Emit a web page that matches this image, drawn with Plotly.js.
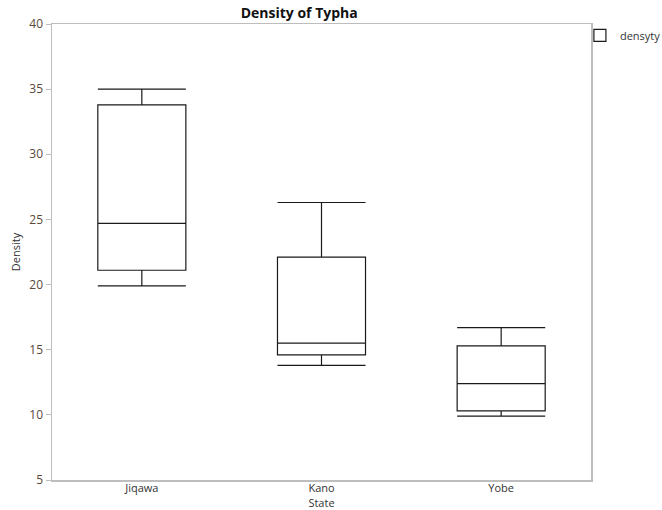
<!DOCTYPE html>
<html>
<head>
<meta charset="utf-8">
<script src="https://cdn.plot.ly/plotly-3.0.1.min.js"></script>
<style>html,body{margin:0;padding:0;background:#fff}#chart{width:662px;height:510px}</style>
</head>
<body>
<div id="chart"></div>
<script>
// Data
const states = ["Jiqawa", "Kano", "Yobe"];
const lowerWhisker = [19.9, 13.8, 9.9];
const q1 = [21.1, 14.6, 10.3];
const median = [24.7, 15.5, 12.4];
const q3 = [33.8, 22.1, 15.3];
const upperWhisker = [35.0, 26.3, 16.7];
const seriesName = "densyty";

const trace = {
  type: "box",
  name: seriesName,
  x: states,
  q1: q1,
  median: median,
  q3: q3,
  lowerfence: lowerWhisker,
  upperfence: upperWhisker,
  boxpoints: false,
  fillcolor: "rgba(255,255,255,0)",
  line: {color: "#1a1a1a", width: 1.2},
  whiskerwidth: 1,
  showlegend: true,
  hoverinfo: "skip"
};

const fontFam = "'Open Sans', 'Noto Sans', sans-serif";
const layout = {
  width: 662, height: 510,
  margin: {l: 52, r: 71, t: 24, b: 30, pad: 0, autoexpand: false},
  paper_bgcolor: "#fff", plot_bgcolor: "#fff",
  font: {family: fontFam, size: 12, color: "#444"},
  boxgap: 0.51,
  boxgroupgap: 0,
  title: {
    text: "<b>Density of Typha</b>",
    font: {family: fontFam, size: 14, color: "#111"},
    x: 0.452, xref: "container", xanchor: "center",
    y: 0.975, yref: "container", yanchor: "middle"
  },
  xaxis: {
    type: "category",
    automargin: false,
    showline: true, mirror: true, linecolor: "#bdbdbd", linewidth: 1.5,
    showgrid: false, zeroline: false,
    ticks: "", ticklen: 0,
    ticklabelstandoff: -3,
    tickfont: {size: 11, color: "#333"},
    title: {text: "State", font: {size: 11, color: "#333"}, standoff: 1}
  },
  yaxis: {
    range: [5, 40],
    automargin: false,
    tickvals: [5, 10, 15, 20, 25, 30, 35, 40],
    showline: true, mirror: true, linecolor: "#bdbdbd", linewidth: 1.5,
    showgrid: false, zeroline: false,
    ticks: "outside", ticklen: 5, tickcolor: "#bdbdbd", tickwidth: 1,
    tickfont: {size: 12, color: "#5a4a3a"},
    title: {text: "Density", font: {size: 11, color: "#333"}, standoff: 6}
  },
  legend: {
    xref: "container", yref: "container",
    x: 0.876, xanchor: "left", y: 0.959, yanchor: "top",
    itemwidth: 30,
    bgcolor: "rgba(0,0,0,0)",
    font: {size: 11, color: "#333"}
  },
  showlegend: true
};

Plotly.newPlot("chart", [trace], layout, {displayModeBar: false, staticPlot: true});
</script>
</body>
</html>
